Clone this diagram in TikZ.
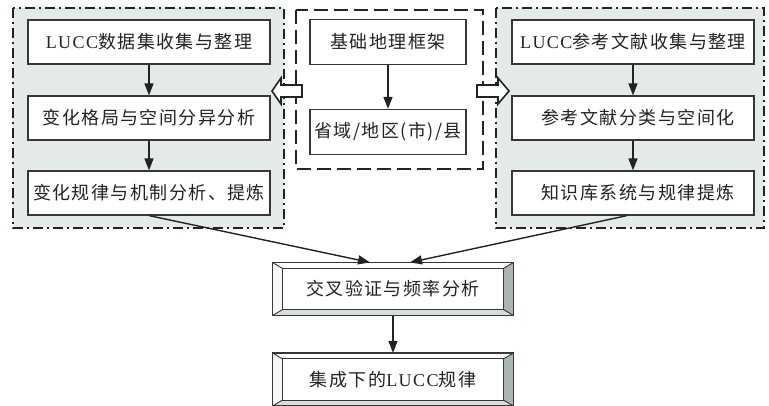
\documentclass[tikz,border=0pt]{standalone}
\usepackage{fontspec}
\setmainfont{Liberation Serif}
\newfontfamily\cjk[LetterSpace=8]{Noto Sans CJK SC}
\newfontfamily\lat[LetterSpace=8]{Liberation Serif}
\usetikzlibrary{arrows.meta}
\definecolor{panelfill}{RGB}{227,234,231}
\definecolor{ink}{RGB}{35,35,35}
\definecolor{boxline}{RGB}{55,55,55}
\definecolor{bevdark}{RGB}{170,182,178}
\definecolor{bevlight}{RGB}{214,221,219}
\definecolor{bevwhite}{RGB}{246,247,247}
\newcommand\bevelbox[1]{%
  \fill[white] (#1.north west) -- (#1.north east) -- ([shift={(-10,6)}]#1.north east) -- ([shift={(10,6)}]#1.north west) -- cycle;
  \fill[bevwhite] (#1.north west) -- ([shift={(10,6)}]#1.north west) -- ([shift={(10,-6)}]#1.south west) -- (#1.south west) -- cycle;
  \fill[bevdark] (#1.north east) -- (#1.south east) -- ([shift={(-10,-6)}]#1.south east) -- ([shift={(-10,6)}]#1.north east) -- cycle;
  \fill[bevlight] (#1.south west) -- (#1.south east) -- ([shift={(-10,-6)}]#1.south east) -- ([shift={(10,-6)}]#1.south west) -- cycle;
  \draw[bevel] ([shift={(10,6)}]#1.north west) rectangle ([shift={(-10,-6)}]#1.south east);
  \draw[bevel] (#1.north west) -- ([shift={(10,6)}]#1.north west);
  \draw[bevel] (#1.north east) -- ([shift={(-10,6)}]#1.north east);
  \draw[bevel] (#1.south west) -- ([shift={(10,-6)}]#1.south west);
  \draw[bevel] (#1.south east) -- ([shift={(-10,-6)}]#1.south east);
  \draw[bevel, line width=1.3pt] (#1.north west) rectangle (#1.south east);
}
\begin{document}
\begin{tikzpicture}[x=1pt,y=-1pt,
  panel/.style={draw=ink, line width=2pt, dash pattern=on 10pt off 4pt on 2pt off 4pt, fill=panelfill},
  midpanel/.style={draw=ink, line width=2.2pt, dash pattern=on 14pt off 6pt, fill=white},
  box/.style={draw=boxline, line width=1.2pt, fill=white, minimum width=242pt, minimum height=44pt, inner sep=0pt, font=\cjk\fontsize{18}{21}\selectfont, text=ink},
  midbox/.style={box, minimum width=156pt, minimum height=45pt},
  vbox/.style={box, draw=none, minimum width=240pt, minimum height=52pt},
  bevel/.style={draw=boxline, line width=0.9pt},
  conn/.style={draw=ink, line width=1.4pt, -{Triangle[length=12pt,width=9pt]}},
  hollow/.style={draw=ink, line width=1.6pt, fill=white, line join=miter}
]
\useasboundingbox (0,0) rectangle (769,406);
\fill[white] (0,0) rectangle (769,406);
\draw[panel] (13,8) rectangle (284,228);
\draw[panel] (496,8) rectangle (764,228);
\draw[midpanel] (296,10) rectangle (483,169);

% left column
\node[box] (l1) at (149,42) {{\lat LUCC}数据集收集与整理};
\node[box] (l2) at (149,118) {变化格局与空间分异分析};
\node[box] (l3) at (149,193) {变化规律与机制分析、提炼};
% middle column
\node[midbox] (m1) at (388,42) {基础地理框架};
\node[midbox] (m2) at (388,132) {省域/地区(市)/县};
% right column
\node[box] (r1) at (633,42) {{\lat LUCC}参考文献收集与整理};
\node[box] (r2) at (633,118) {\hspace{10pt}参考文献分类与空间化};
\node[box] (r3) at (633,193) {\hspace{10pt}知识库系统与规律提炼};

% hollow arrows
\draw[hollow] (302,85) -- (281,85) -- (281,78) -- (272,91) -- (281,104) -- (281,97) -- (302,97) -- cycle;
\draw[hollow] (477,85) -- (498,85) -- (498,78) -- (509,91) -- (498,104) -- (498,97) -- (477,97) -- cycle;

% bottom beveled boxes
\node[vbox] (v1) at (393,289) {};
\bevelbox{v1}
\node[vbox, fill=none] at (v1) {交叉验证与频率分析};
\node[vbox] (v2) at (393,379.5) {};
\bevelbox{v2}
\node[vbox, fill=none] at (v2) {集成下的{\lat LUCC}规律};

% connectors
\draw[conn] (l1) -- (l2);
\draw[conn] (l2) -- (l3);
\draw[conn] (m1) -- (m2);
\draw[conn] (r1) -- (r2);
\draw[conn] (r2) -- (r3);
\draw[conn] (l3.south) -- ([xshift=-23pt]v1.north);
\draw[conn] ([xshift=-6pt]r3.south) -- ([xshift=17pt]v1.north);
\draw[conn] (v1) -- (v2);
\end{tikzpicture}
\end{document}
